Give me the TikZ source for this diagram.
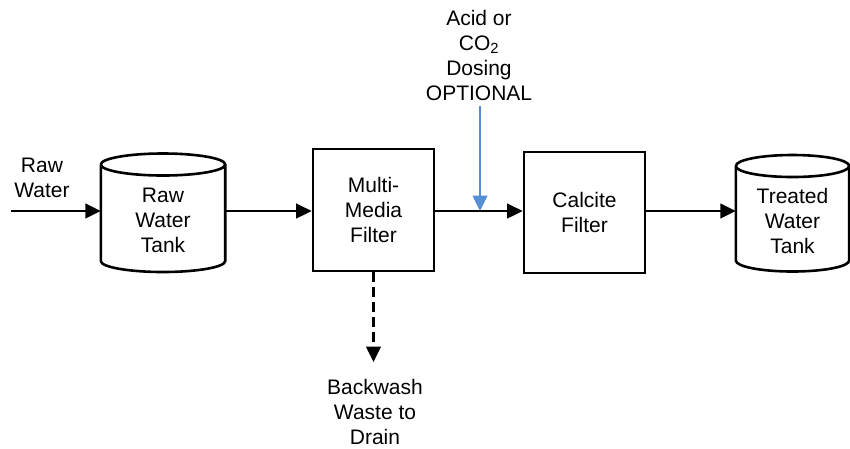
\documentclass[tikz,border=0pt]{standalone}
\usepackage{fontspec}
\setmainfont{Liberation Sans}
\usetikzlibrary{arrows.meta,calc}
\definecolor{dosingblue}{RGB}{85,142,213}
\begin{document}
\begin{tikzpicture}[x=1pt,y=-1pt,
  every node/.style={font=\fontsize{21}{25}\selectfont, align=center, inner sep=0pt},
  unitbox/.style={draw, line width=2.6pt},
  tank/.style={inner sep=0pt},
  tankline/.style={line width=2.6pt},
  tip/.style={-{Triangle[length=15.5pt,width=14.5pt]}},
  flow/.style={line width=2.6pt, tip},
  dosing/.style={draw=dosingblue, line width=2.6pt, tip},
  drainflow/.style={line width=2.6pt, dash pattern=on 10pt off 5pt, tip}]
\useasboundingbox (0,0) rectangle (850,448);

% vessels and filters
\node[tank, minimum width=124] (rawtank) at (163,220.5) {Raw\\Water\\Tank};
\node[unitbox, minimum width=121, minimum height=122] (mmf) at (373.5,210) {Multi-\\Media\\Filter};
\node[unitbox, minimum width=121, minimum height=121] (calcite) at (584.5,212.5) {Calcite\\Filter};
\node[tank, minimum width=113] (treated) at (792.5,220.5) {Treated\\Water\\Tank};

% cylinder outlines around the tank nodes (top and bottom ellipse offsets from the text centre)
\foreach \t/\tp/\bt in {rawtank/56pt/40.5pt, treated/54.5pt/40pt} {
  \draw[tankline] let \p1=(\t.center), \p2=(\t.east), \n1={\x2-\x1} in
    (\x1-\n1,\y1+\tp) arc[start angle=180, end angle=-180, x radius=\n1, y radius=11pt]
    (\x1-\n1,\y1+\tp) -- (\x1-\n1,\y1-\bt)
      arc[start angle=180, end angle=360, x radius=\n1, y radius=11pt]
      -- (\x1+\n1,\y1+\tp);
}

% labels
\node (rawin) at (42,178) {Raw\\Water};
\node (dose) at (479,55.5) {Acid or\\CO\textsubscript{2}\\Dosing\\OPTIONAL};
\node (drain) at (375,412) {Backwash\\Waste to\\Drain};

% flow line helpers
\coordinate (inlet) at (11,211);
\coordinate (flowline) at (0,211);
\coordinate (dosejoin) at (480,211);
\coordinate (draintip) at (375,362);

% connectors
\draw[flow] (inlet) -- (rawtank.west |- flowline);
\draw[flow] (rawtank.east |- flowline) -- (mmf.west |- flowline);
\draw[flow] (mmf.east |- flowline) -- (calcite.west |- flowline);
\draw[flow] (calcite.east |- flowline) -- (treated.west |- flowline);
\draw[dosing] (dosejoin |- {(0,106)}) -- (dosejoin);
\draw[drainflow] (mmf.south) -- (mmf.south |- draintip);
\end{tikzpicture}
\end{document}
